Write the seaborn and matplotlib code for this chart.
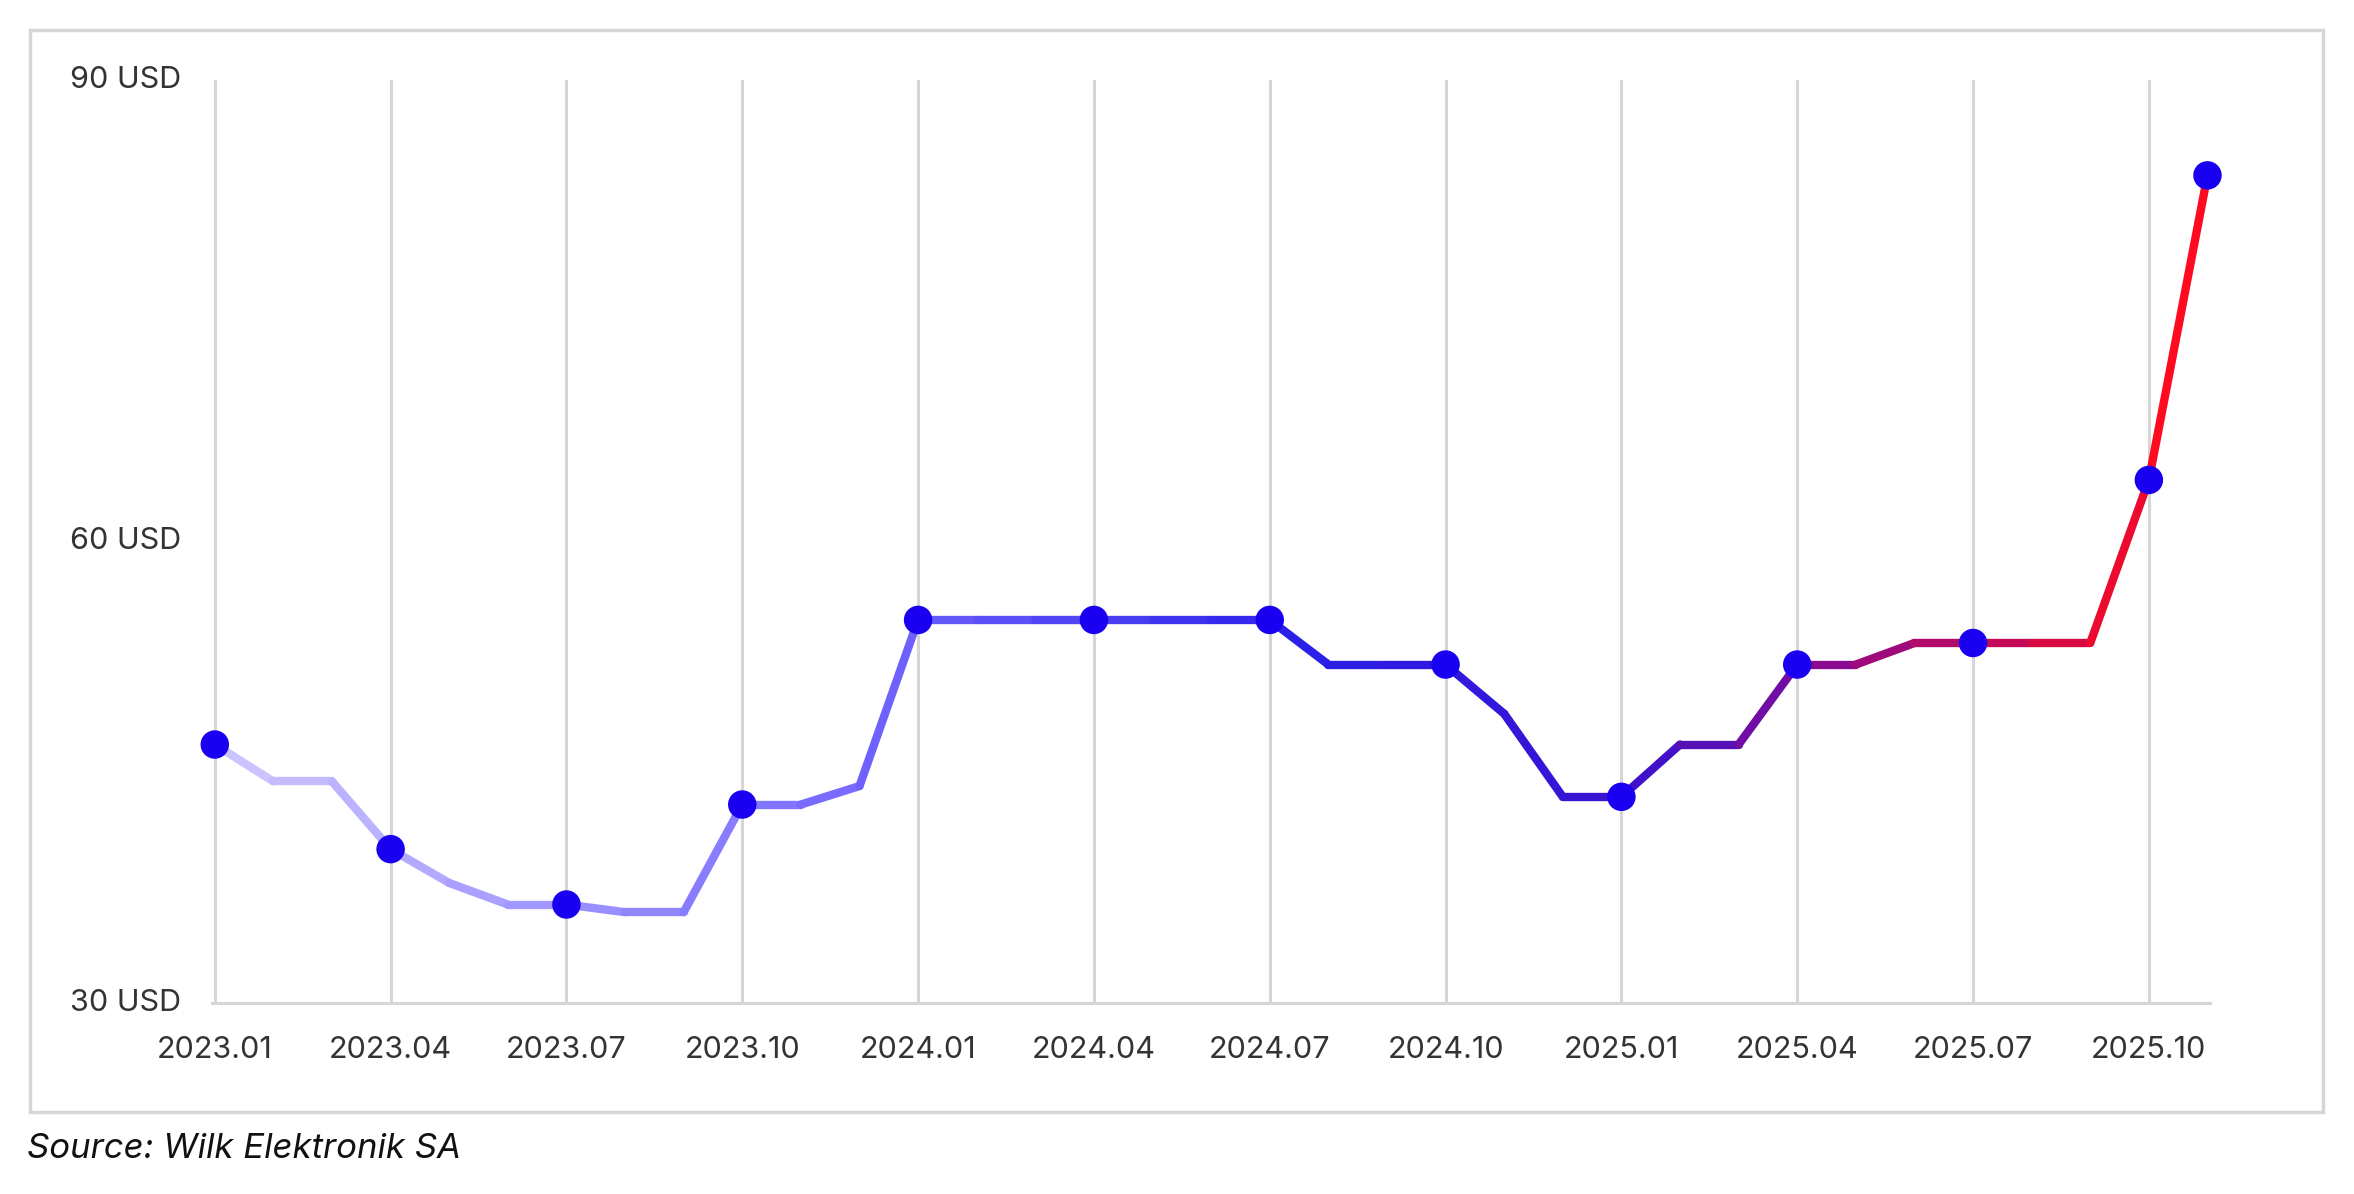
import matplotlib
matplotlib.use("Agg")
import matplotlib.pyplot as plt
import seaborn as sns
import numpy as np
import pandas as pd
from matplotlib.colors import LinearSegmentedColormap
from matplotlib.patches import Rectangle

# monthly price, 2023.01 .. 2025.11
months = [f"{y}.{m:02d}" for y in (2023, 2024, 2025) for m in range(1, 13)][:35]
prices = [46.8, 44.4, 44.4, 40.0, 37.8, 36.4, 36.4, 35.9, 35.9, 42.9, 42.9, 44.1,
          54.9, 54.9, 54.9, 54.9, 54.9, 54.9, 54.9, 52.0, 52.0, 52.0, 48.8, 43.4,
          43.4, 46.8, 46.8, 52.0, 52.0, 53.4, 53.4, 53.4, 53.4, 64.0, 83.8]
marker_months = months[::3] + [months[-1]]
tick_labels = months[::3]
ytick_values = [30, 60, 90]
source_text = "Source: Wilk Elektronik SA"

sns.set_style("white")
plt.rcParams['font.family'] = ['Inter', 'DejaVu Sans']

df = pd.DataFrame({"month": months, "price": prices, "x": np.arange(len(months))})

fig = plt.figure(figsize=(23.54, 11.94), dpi=100)
ax = fig.add_axes([0.09, 0.16, 0.849, 0.773])

cmap = LinearSegmentedColormap.from_list(
    "grad", [(0, "#cbc4ff"), (0.3, "#7a6cff"), (0.55, "#2a1ee8"),
             (0.72, "#3a12d0"), (0.82, "#8a0a90"), (1.0, "#ff0a1e")])
n = len(df)
for i in range(n - 1):
    seg = df.iloc[i:i + 2]
    sns.lineplot(data=seg, x="x", y="price", ax=ax, color=cmap(i / (n - 2)),
                 linewidth=6, solid_capstyle="round")

dots = df[df["month"].isin(marker_months)]
sns.scatterplot(data=dots, x="x", y="price", ax=ax, color="#1a00f0",
                s=420, edgecolor="none", zorder=5, clip_on=False)

tick_pos = df[df["month"].isin(tick_labels)]["x"]
ax.set_xticks(tick_pos)
ax.set_xticklabels(tick_labels, fontsize=22, color="#333333")
ax.set_yticks(ytick_values)
ax.set_yticklabels([f"{v} USD" for v in ytick_values], fontsize=22, color="#333333")
ax.set_xlim(-0.05, n - 1 + 0.05)
ax.set_ylim(30, 90)
ax.set_xlabel("")
ax.set_ylabel("")
for x in tick_pos:
    ax.axvline(x, color="#d6d6d6", linewidth=2.2, zorder=0)
for s in ["top", "right", "left"]:
    ax.spines[s].set_visible(False)
ax.spines["bottom"].set_color("#d6d6d6")
ax.spines["bottom"].set_linewidth(2.2)
ax.tick_params(axis="x", length=0, pad=24)
ax.tick_params(axis="y", length=0, pad=22)
for lbl in ax.get_yticklabels():
    lbl.set_verticalalignment("center")

fig.patches.append(Rectangle((0.0128, 0.069), 0.974, 0.906, transform=fig.transFigure,
                             fill=False, edgecolor="#d6d6d6", linewidth=2.5))
fig.text(0.0115, 0.038, source_text, fontsize=25, style="italic", va="center", color="#111111")

fig.savefig("out.png", dpi=100)
